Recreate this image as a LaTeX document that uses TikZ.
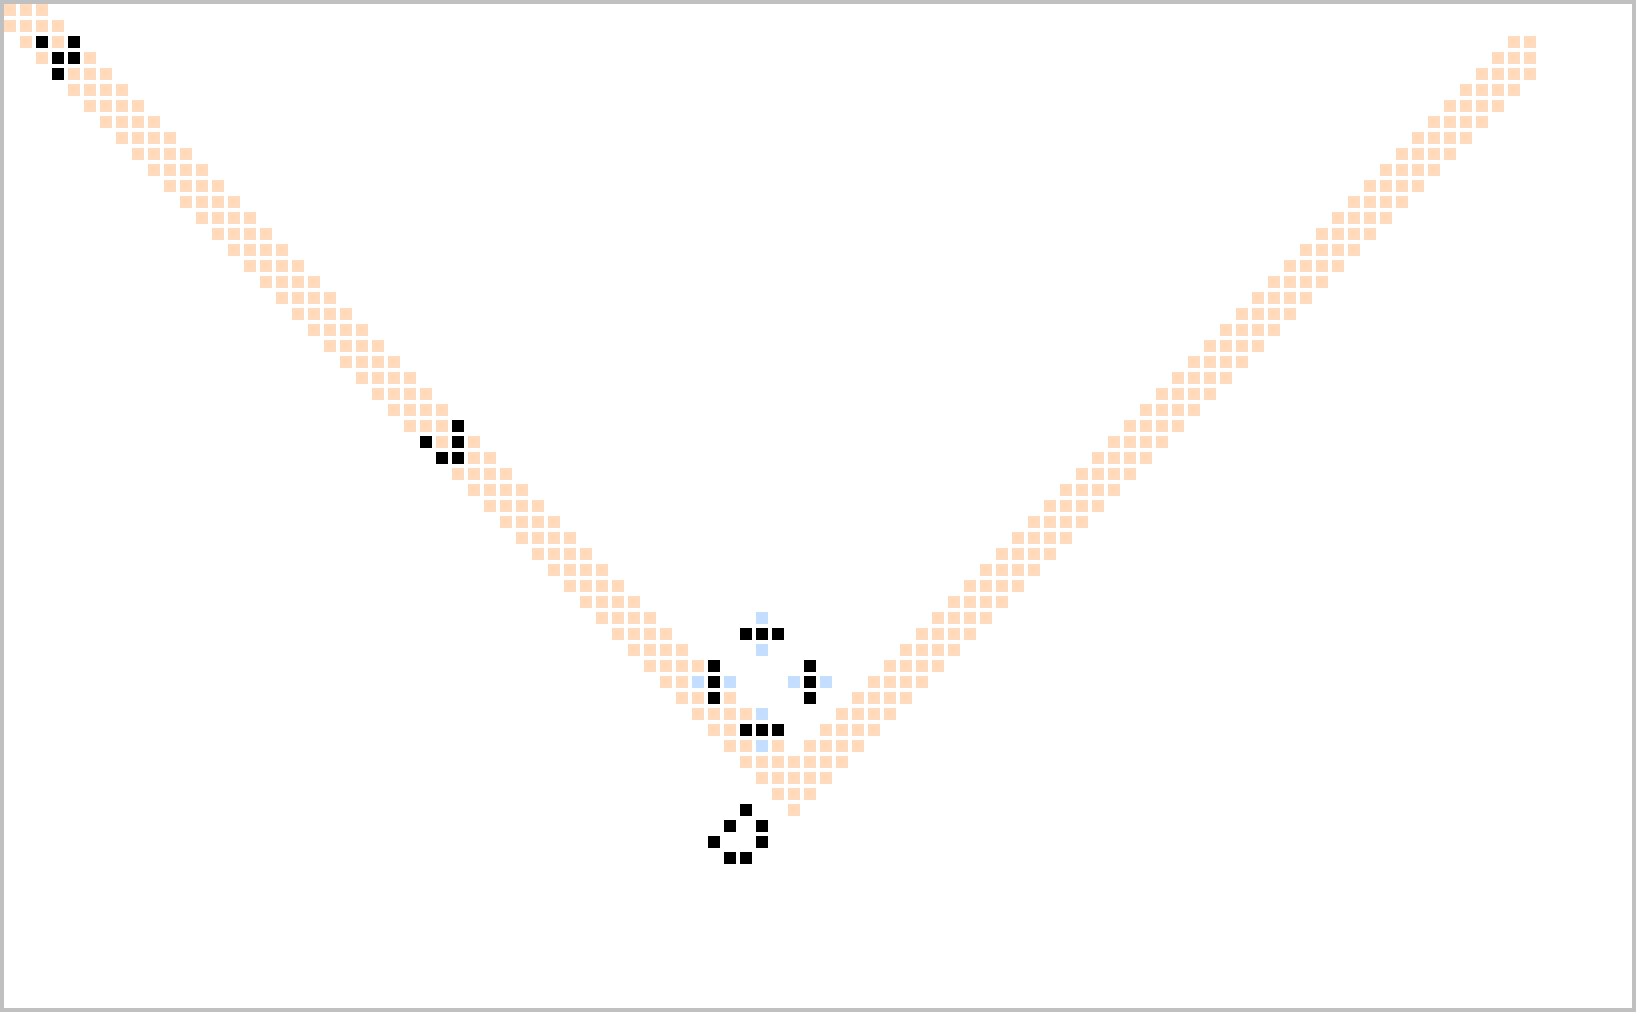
\documentclass[tikz,border=0pt]{standalone}
\usepackage{tikz}
\definecolor{trail}{RGB}{255,218,188}
\definecolor{birth}{RGB}{196,222,255}
\definecolor{framegray}{RGB}{192,192,192}

\tikzset{
  alive/.style={fill=black},
  trailcell/.style={fill=trail},
  birthcell/.style={fill=birth},
}
% one cell of the board: column, row
\newcommand{\gcell}[3][alive]{\fill[#1] ({4+16*#2},{4+16*#3}) rectangle ++(12,12);}

\begin{document}
\begin{tikzpicture}[x=0.5pt, y=-0.5pt]

% --- Board ---
\fill[framegray] (0,0) rectangle (1636,1012);
\fill[white] (4,4) rectangle (1632,1008);

% --- Trail, left arm ---
\foreach \r in {0,...,48} {
  \foreach \d in {-1,...,2} {
    \pgfmathtruncatemacro\cx{\r+\d}
    \ifnum\cx>-1 \gcell[trailcell]{\cx}{\r}\fi
  }
}

% --- Trail, right arm ---
\foreach \r in {2,...,48} {
  \foreach \d in {96,...,99} {
    \pgfmathtruncatemacro\cx{\d-\r}
    \ifnum\cx<96 \gcell[trailcell]{\cx}{\r}\fi
  }
}

% --- Trail, tip ---
\foreach \cx/\r in {48/49, 49/49, 50/49, 49/50} {
  \gcell[trailcell]{\cx}{\r}
}

% --- Births ---
\foreach \cx/\r in {47/38, 47/40, 43/42, 45/42, 49/42, 51/42, 47/44, 47/46} {
  \gcell[birthcell]{\cx}{\r}
}

% --- Live cells ---
\foreach \cx/\r in {2/2, 4/2, 3/3, 4/3, 3/4,
                    28/26, 26/27, 28/27, 27/28, 28/28,
                    46/39, 47/39, 48/39,
                    44/41, 44/42, 44/43,
                    50/41, 50/42, 50/43,
                    46/45, 47/45, 48/45,
                    46/50, 45/51, 47/51, 44/52, 47/52, 45/53, 46/53} {
  \gcell{\cx}{\r}
}

\end{tikzpicture}
\end{document}
